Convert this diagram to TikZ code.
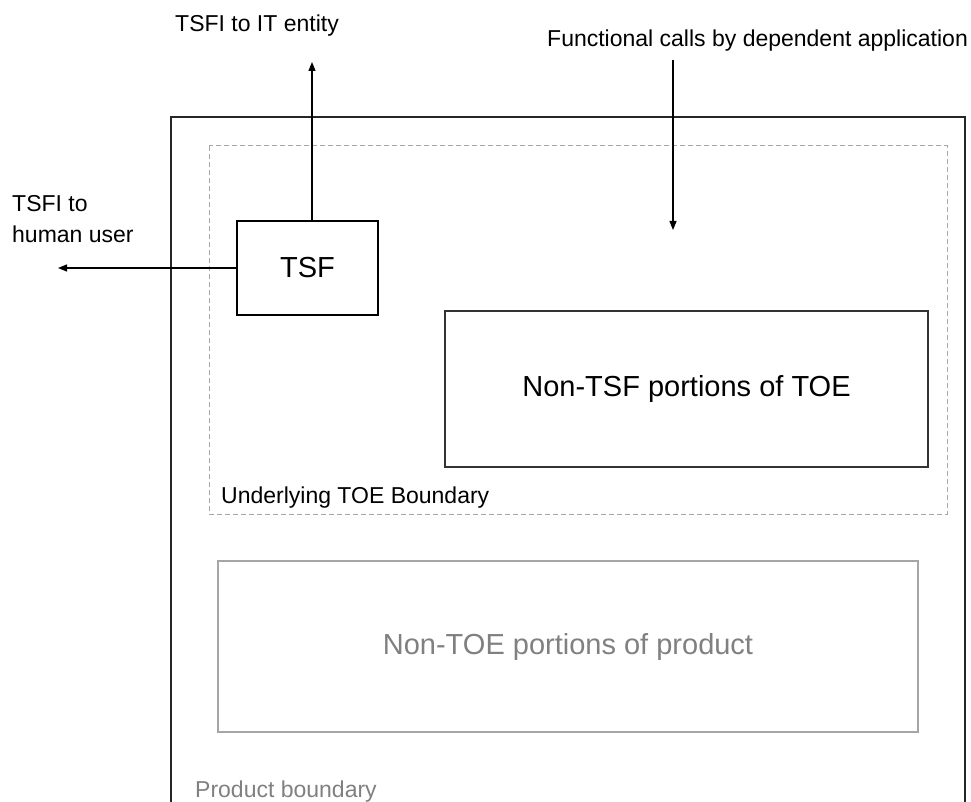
\documentclass[tikz,border=0pt]{standalone}
\usepackage{fontspec}
\setmainfont{Liberation Sans}
\usetikzlibrary{arrows.meta}

\begin{document}
\begin{tikzpicture}[x=1pt, y=-1pt,
  smalltext/.style={font=\fontsize{23}{31}\selectfont, inner sep=0pt},
  bigtext/.style={font=\fontsize{29}{34}\selectfont},
  flow/.style={-{Triangle[length=9pt,width=7pt]}, line width=1.2pt}]
\useasboundingbox (0,0) rectangle (971,802);

% Boundaries
\draw[line width=2pt, black!85] (171,802) -- (171,117) -- (965,117) -- (965,802);
\draw[gray!70, line width=1pt, dash pattern=on 5pt off 3pt] (209,146) rectangle (947,514);

% Boxes
\node[draw, line width=1.2pt, minimum width=141pt, minimum height=94pt, bigtext] (tsf) at (307.5,268) {TSF};
\node[draw, line width=1.2pt, draw=black!80, minimum width=483pt, minimum height=156pt, bigtext] (nontsf) at (686.5,389) {Non-TSF portions of TOE};
\node[draw, line width=1.2pt, draw=gray!70, text=gray, minimum width=700pt, minimum height=171pt, bigtext] (nontoe) at (568,646.5) {Non-TOE portions of product};

% Labels
\node[smalltext, anchor=base west] (itlabel) at (175,32) {TSFI to IT entity};
\node[smalltext, anchor=base west] (calllabel) at (547,47) {Functional calls by dependent application};
\node[smalltext, anchor=base west, align=left] (userlabel) at (12,243) {TSFI to\\human user};
\node[smalltext, anchor=base west] (toelabel) at (221,503) {Underlying TOE Boundary};
\node[smalltext, anchor=base west, text=gray] (prodlabel) at (195,797) {Product boundary};

% Interfaces
\coordinate (itend) at (312,62);
\coordinate (userend) at (58,268);
\coordinate (callstart) at (673,60);
\coordinate (callend) at (673,230);
\draw[flow] (tsf.north -| itend) -- (itend);
\draw[flow] (tsf.west) -- (userend);
\draw[flow] (callstart) -- (callend);

\end{tikzpicture}
\end{document}
